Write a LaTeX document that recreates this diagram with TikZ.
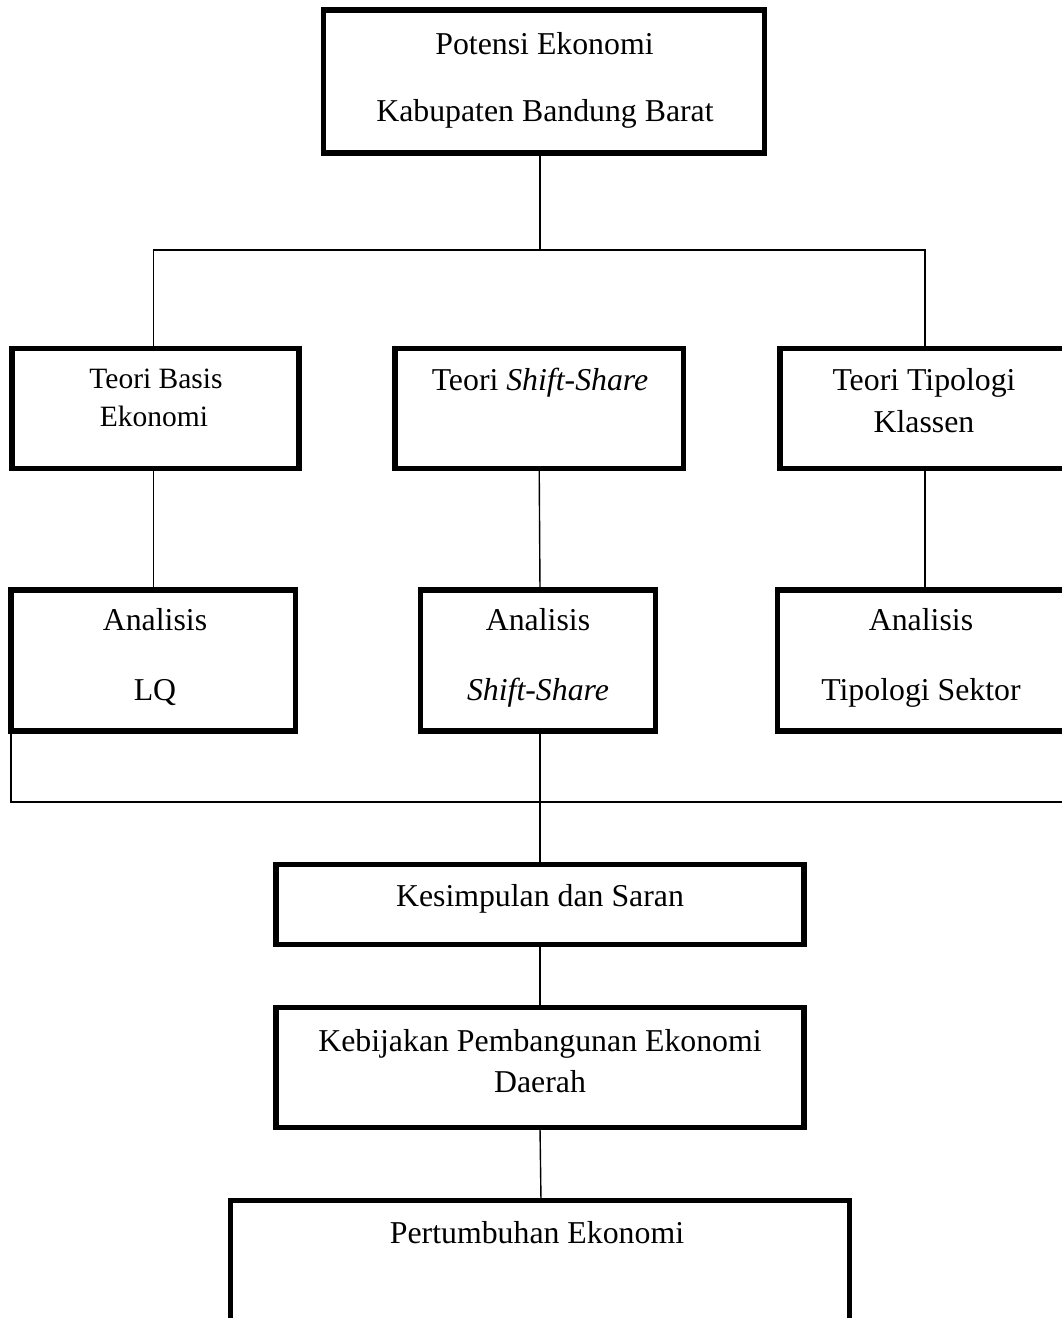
\documentclass[tikz,border=0pt]{standalone}
\usepackage{fontspec}
\setmainfont{Liberation Serif}
\begin{document}
\begin{tikzpicture}[x=1pt,y=-1pt,
  boxnode/.style={draw=black,line width=5.2pt,rectangle,inner sep=0pt,outer sep=0pt,fill=none},
  conn/.style={draw=black,line width=1.4pt},
  txt/.style={inner sep=0pt,font=\fontsize{31.8}{36}\selectfont,text height=0.68em,text depth=0.2em},
  smalltxt/.style={inner sep=0pt,font=\fontsize{29.5}{34}\selectfont,text height=0.68em,text depth=0.2em}]
\useasboundingbox (0,0) rectangle (1062,1318);
\clip (0,0) rectangle (1062,1318);
\fill[white] (0,0) rectangle (1062,1318);
% boxes
\node[boxnode,minimum width=441.5pt,minimum height=143pt] (top) at (544,81.5) {};
\node[boxnode,minimum width=287pt,minimum height=120pt] (b1) at (155.5,408.4) {};
\node[boxnode,minimum width=288.3pt,minimum height=120pt] (b2) at (539.2,408.4) {};
\node[boxnode,minimum width=290pt,minimum height=120pt] (b3) at (925,408.4) {};
\node[boxnode,minimum width=284.7pt,minimum height=141pt] (a1) at (153.3,660.5) {};
\node[boxnode,minimum width=235pt,minimum height=141pt] (a2) at (538,660.5) {};
\node[boxnode,minimum width=295pt,minimum height=141pt] (a3) at (925,660.5) {};
\node[boxnode,minimum width=528pt,minimum height=80pt] (k) at (540,904.5) {};
\node[boxnode,minimum width=528pt,minimum height=120pt] (kb) at (540,1067.5) {};
\node[boxnode,minimum width=619pt,minimum height=160pt] (p) at (540,1280.5) {};
% texts
\node[txt] (ttop1) at (544.5,52) {Potensi Ekonomi};
\node[txt] (ttop2) at (545,119) {Kabupaten Bandung Barat};
\node[smalltxt] (tb1a) at (156,386) {Teori Basis};
\node[smalltxt] (tb1b) at (154,424) {Ekonomi};
\node[txt] (tb2) at (540,388) {Teori \textit{Shift-Share}};
\node[txt] (tb3a) at (924,388) {Teori Tipologi};
\node[txt] (tb3b) at (924,430) {Klassen};
\node[txt] (ta1a) at (155,628) {Analisis};
\node[txt] (ta1b) at (155,698) {LQ};
\node[txt] (ta2a) at (538,628) {Analisis};
\node[txt] (ta2b) at (538,698) {\textit{Shift-Share}};
\node[txt] (ta3a) at (921,628) {Analisis};
\node[txt] (ta3b) at (921,698) {Tipologi Sektor};
\node[txt] (tk) at (540,904) {Kesimpulan dan Saran};
\node[txt] (tkb1) at (540,1049) {Kebijakan Pembangunan Ekonomi};
\node[txt] (tkb2) at (540,1090) {Daerah};
\node[txt] (tp) at (537,1241) {Pertumbuhan Ekonomi};
% connectors
\coordinate (j1) at (540,250);
\draw[conn] (top.south -| j1) -- (j1);
\draw[conn] (a1.north |- b1.north) |- (j1) -| (b3.north);
\draw[conn] (a1.north |- b1.south) -- (a1.north);
\draw[conn] (b2.south) -- (a2.north -| k.north);
\draw[conn] (b3.south) -- (a3.north);
\coordinate (h2) at (1080,802);
\coordinate (h1) at (a1.south west |- h2);
\draw[conn] (a1.south west) -- (h1) -- (h2);
\draw[conn] (a2.south -| k.north) -- (k.north);
\draw[conn] (k.south) -- (kb.north);
\draw[conn] (kb.south) -- ([xshift=1pt]p.north);
\end{tikzpicture}
\end{document}
